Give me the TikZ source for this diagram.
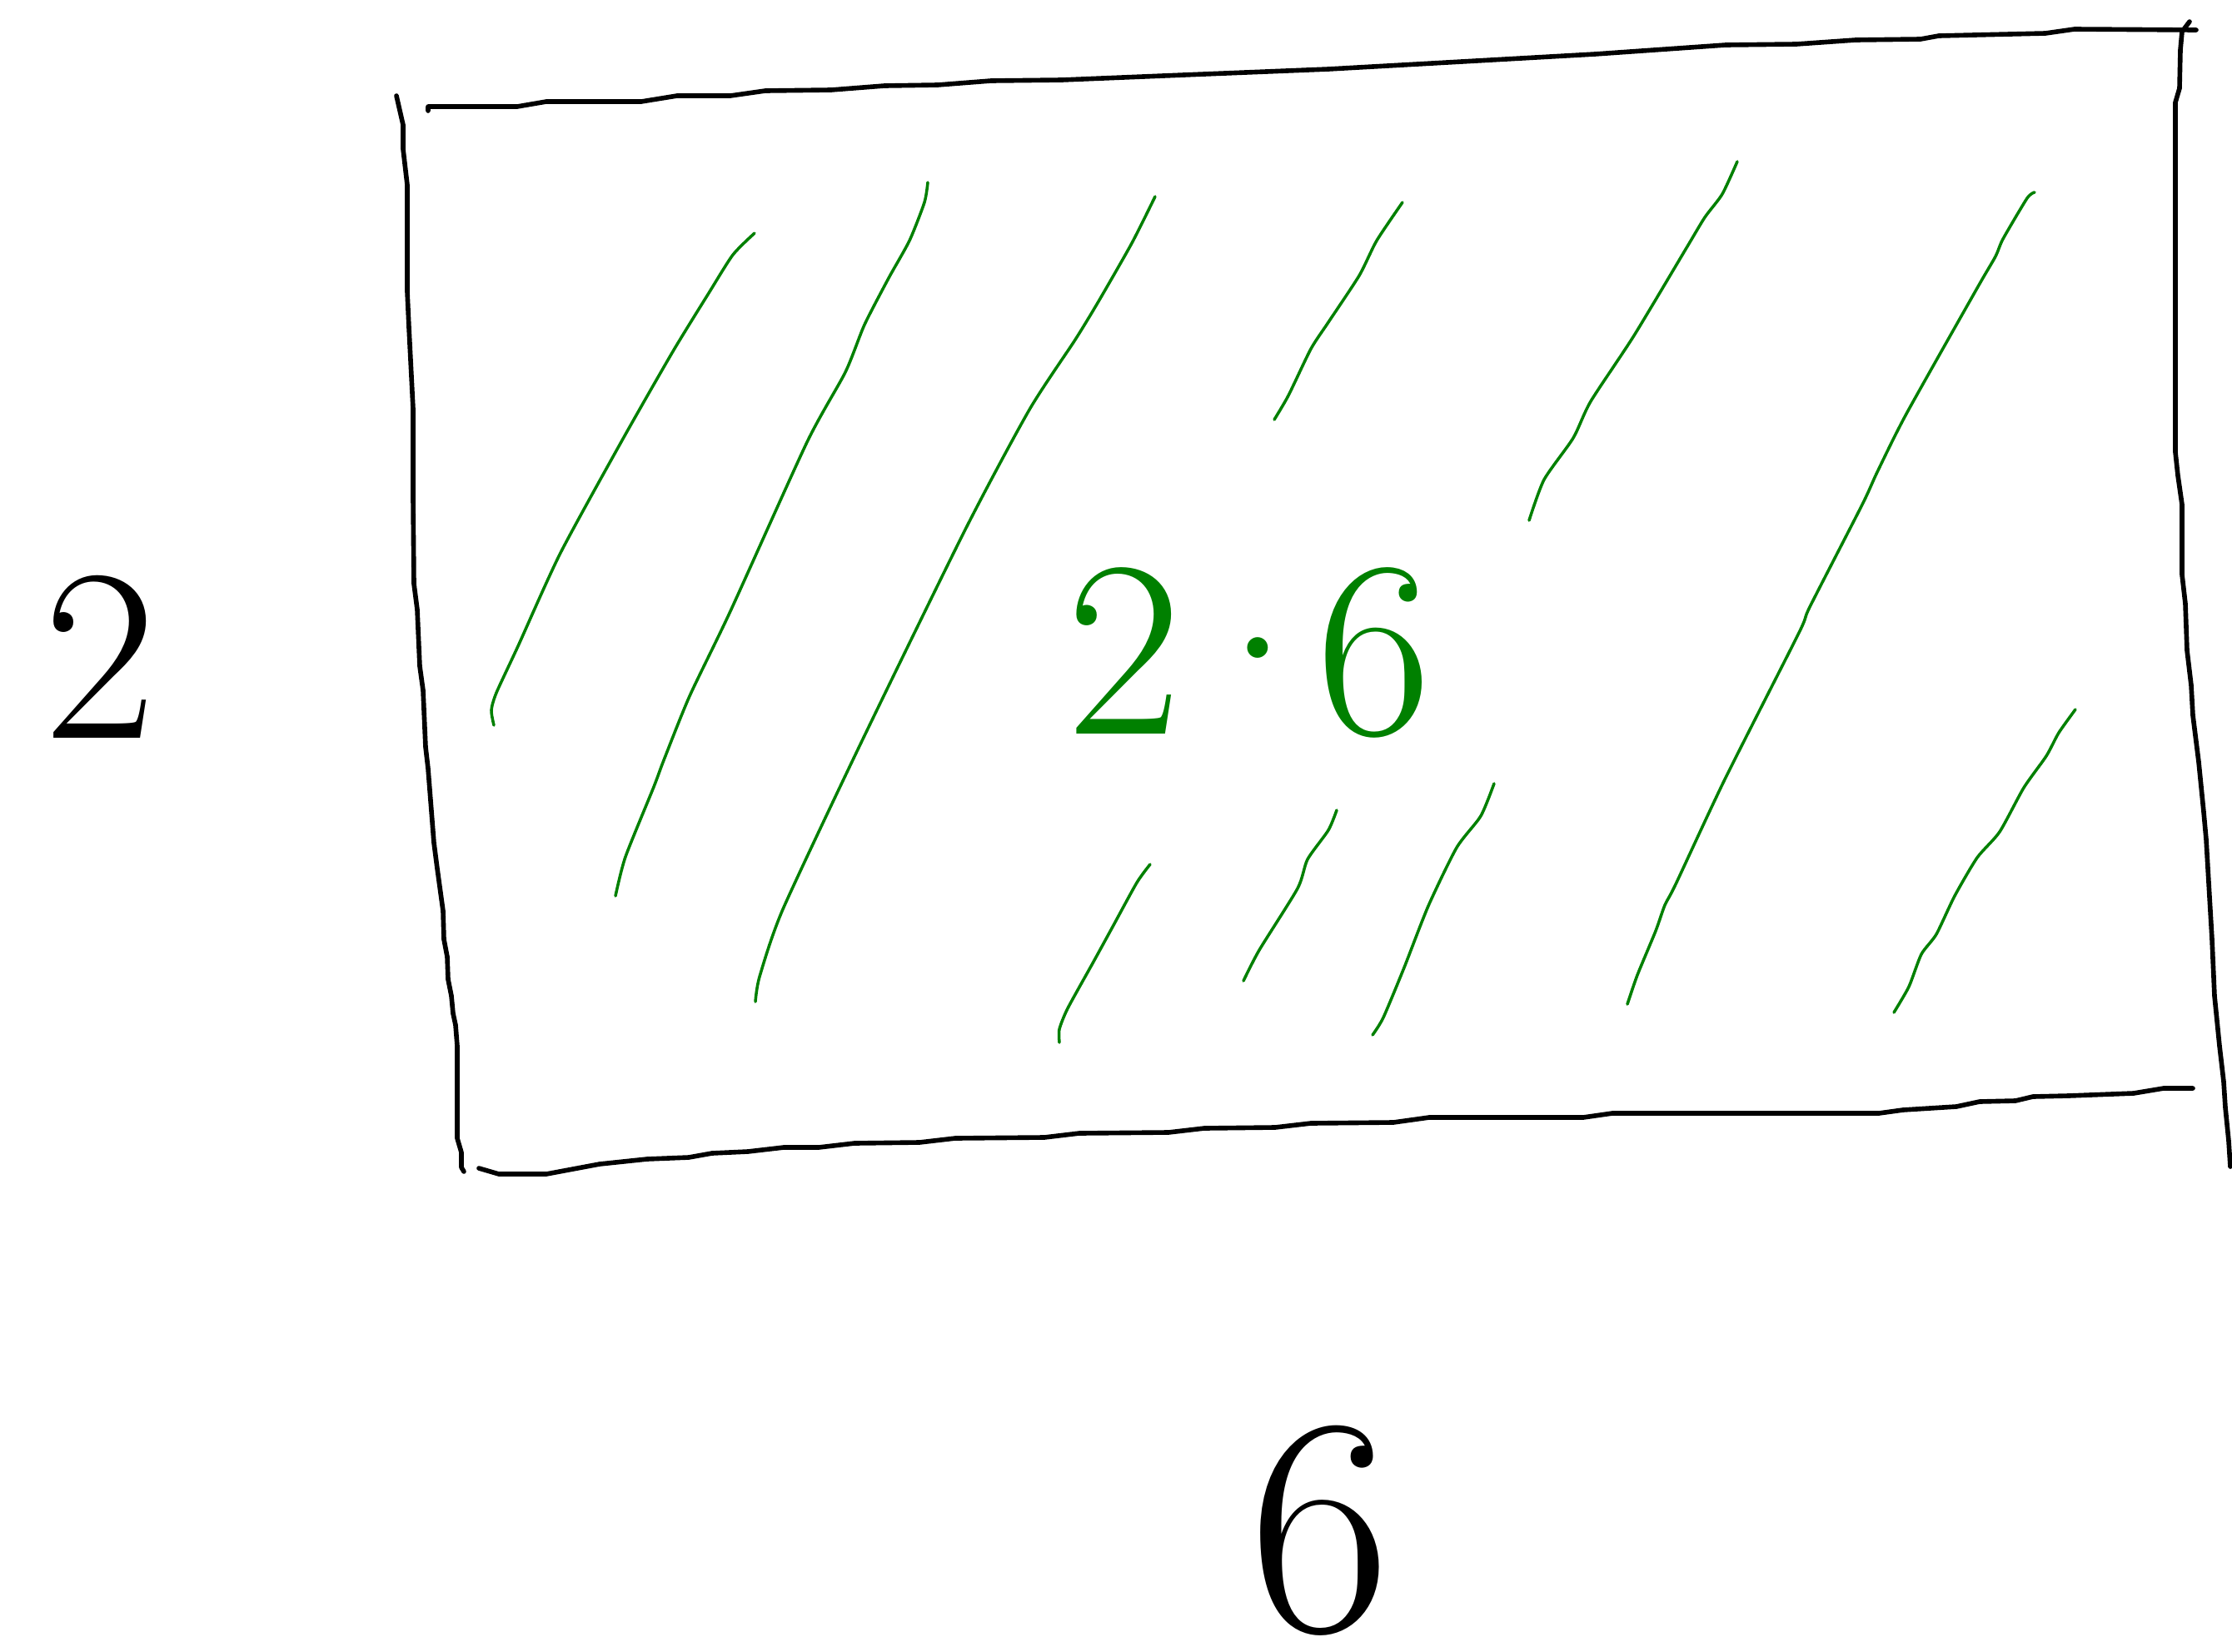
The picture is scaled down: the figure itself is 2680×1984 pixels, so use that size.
\documentclass[tikz,border=0pt]{standalone}
\usepackage{fontspec}
\begin{document}
\definecolor{pen}{RGB}{0,128,0}
\begin{tikzpicture}[x=0.01cm,y=-0.01cm,
  edge/.style={draw=black,line width=1.6pt,line join=round,line cap=round},
  hatch/.style={draw=pen,line width=1pt,line join=round,line cap=round},
  lbl/.style={inner sep=0pt,text=black},
  prod/.style={inner sep=0pt,text=pen}]
\useasboundingbox[fill=white] (0,0) rectangle (2680,1984);
% rectangle sides (hand drawn)
\draw[edge] (514,133) -- (514,128) -- (621,128) -- (656,122) -- (770,122) -- (813,115) -- (877,115) -- (919,109) -- (998,108) -- (1062,103) -- (1126,102) -- (1190,97) -- (1275,96) -- (1446,89) -- (1595,83) -- (1702,77) -- (1915,65) -- (2072,54) -- (2157,53) -- (2228,48) -- (2306,47) -- (2328,43) -- (2456,40) -- (2491,35) -- (2637,36);
\draw[edge] (2629,26) -- (2620,38) -- (2618,60) -- (2617,106) -- (2612,123) -- (2612,137) -- (2612,543) -- (2615,571) -- (2620,606) -- (2620,690) -- (2624,725) -- (2626,781) -- (2631,823) -- (2633,859) -- (2640,915) -- (2646,975) -- (2649,1008) -- (2653,1077) -- (2656,1128) -- (2659,1196) -- (2665,1256) -- (2670,1299) -- (2672,1330) -- (2676,1370) -- (2678,1401);
\draw[edge] (575,1403) -- (599,1410) -- (656,1410) -- (720,1398) -- (777,1392) -- (827,1390) -- (855,1385) -- (898,1383) -- (941,1378) -- (983,1378) -- (1026,1373) -- (1104,1372) -- (1147,1367) -- (1254,1366) -- (1296,1361) -- (1403,1360) -- (1446,1355) -- (1531,1354) -- (1574,1349) -- (1673,1348) -- (1716,1342) -- (1901,1342) -- (1936,1337) -- (2256,1337) -- (2285,1333) -- (2349,1329) -- (2377,1323) -- (2420,1322) -- (2441,1317) -- (2484,1316) -- (2562,1313) -- (2598,1307) -- (2633,1307);
\draw[edge] (476,115) -- (484,150) -- (484,179) -- (489,222) -- (489,350) -- (491,393) -- (496,491) -- (496,598) -- (497,701) -- (501,732) -- (504,800) -- (508,829) -- (511,897) -- (514,923) -- (521,1012) -- (525,1043) -- (532,1094) -- (533,1128) -- (537,1149) -- (538,1176) -- (542,1196) -- (544,1217) -- (547,1231) -- (549,1256) -- (549,1367) -- (554,1384) -- (554,1402) -- (557,1407);
% green hatching
\draw[hatch] plot[smooth,tension=0.4] coordinates {(593,871) (590,853) (596,832) (622,776) (673,664) (748,527) (808,422) (851,352) (880,306) (906,280)};
\draw[hatch] plot[smooth,tension=0.4] coordinates {(739,1076) (751,1029) (785,945) (797,913) (828,836) (877,734) (969,531) (1015,447) (1038,390) (1067,334) (1092,289) (1110,243) (1114,219)};
\draw[hatch] plot[smooth,tension=0.4] coordinates {(907,1203) (912,1173) (940,1092) (1032,896) (1159,636) (1236,492) (1291,408) (1319,362) (1359,292) (1387,236)};
\draw[hatch] plot[smooth,tension=0.4] coordinates {(1530,504) (1547,475) (1574,419) (1595,387) (1632,331) (1653,289) (1684,243)};
\draw[hatch] plot[smooth,tension=0.4] coordinates {(1836,625) (1854,576) (1889,526) (1910,482) (1962,403) (2026,296) (2047,261) (2068,233) (2086,194)};
\draw[hatch] plot[smooth,tension=0.4] coordinates {(1954,1206) (1966,1171) (1988,1118) (1999,1087) (2012,1062) (2071,936) (2160,760) (2173,729) (2236,606) (2254,567) (2289,497) (2374,346) (2396,308) (2405,287) (2434,238) (2443,231)};
\draw[hatch] plot[smooth,tension=0.4] coordinates {(2274,1216) (2292,1185) (2307,1146) (2325,1122) (2347,1076) (2374,1030) (2401,999) (2430,946) (2457,908) (2472,880) (2492,852)};
\draw[hatch] plot[smooth,tension=0.4] coordinates {(1272,1252) (1272,1236) (1282,1211) (1313,1155) (1336,1113) (1365,1060) (1381,1038)};
\draw[hatch] plot[smooth,tension=0.4] coordinates {(1493,1178) (1512,1141) (1558,1067) (1570,1032) (1595,997) (1605,973)};
\draw[hatch] plot[smooth,tension=0.4] coordinates {(1648,1243) (1661,1222) (1686,1162) (1715,1088) (1749,1018) (1778,980) (1794,941)};
% labels
\node[lbl,font=\fontsize{84}{90}\selectfont] (side) at (120,789) {2};
\node[lbl,font=\fontsize{106}{116}\selectfont] (base) at (1585,1838) {6};
\node[prod,font=\fontsize{86}{94}\selectfont] (area) at (1500,784) {2\kern-5pt·\kern-11pt6};
\end{tikzpicture}
\end{document}
